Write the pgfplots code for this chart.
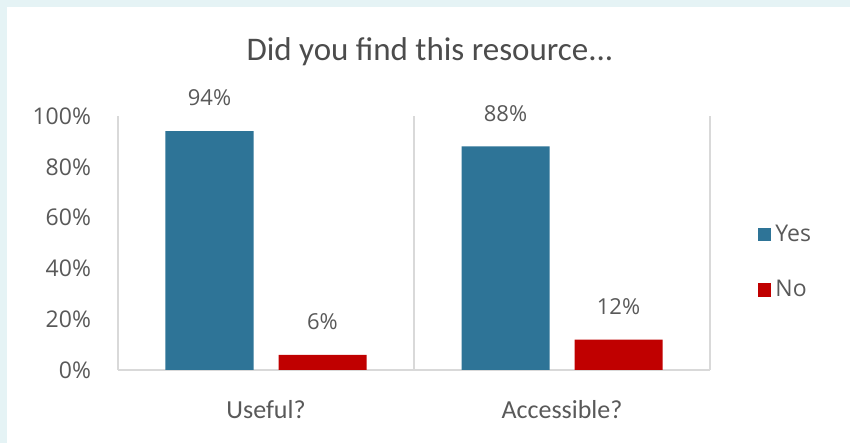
\documentclass[border=0pt]{standalone}
\usepackage{pgfplots}
\pgfplotsset{compat=1.18}
\usepackage{fontspec}
\setmainfont{Carlito}
\newfontfamily\numfont{Open Sans}
\definecolor{bgcyan}{HTML}{E5F3F5}
\definecolor{barblue}{HTML}{2E7497}
\definecolor{barred}{HTML}{C00000}
\definecolor{txtgray}{HTML}{595959}
\definecolor{linegray}{HTML}{D9D9D9}
\begin{document}
\begin{tikzpicture}
\useasboundingbox (0,0) rectangle (425pt,221.5pt);
\fill[bgcyan] (0,0) rectangle (425pt,221.5pt);
\fill[white] (3.5pt,0) rectangle (425pt,218pt);
\begin{axis}[
  at={(59pt,36.5pt)}, anchor=south west,
  scale only axis, width=296pt, height=127pt,
  xmin=-0.5, xmax=1.5, ymin=0, ymax=100,
  ybar,
  /pgf/number format/assume math mode=true,
  axis x line*=bottom, axis y line*=left,
  x axis line style={draw=linegray, line width=0.6pt, -},
  y axis line style={draw=none},
  xtick={0,1}, xticklabels={Useful?,Accessible?},
  minor xtick={-0.5,0.5,1.5}, xminorgrids=true,
  minor grid style={draw=linegray, line width=0.6pt},
  minor tick length=0pt, major tick length=0pt,
  ytick={0,20,40,60,80,100},
  yticklabels={0\%,20\%,40\%,60\%,80\%,100\%},
  tick style={draw=none},
  yticklabel style={font=\numfont\fontsize{11.5}{13}\selectfont, text=txtgray, xshift=-10pt},
  xticklabel style={font=\fontsize{13}{15}\selectfont, text=txtgray, yshift=-11.5pt},
  bar width=44pt,
  nodes near coords={\pgfmathprintnumber{\pgfplotspointmeta}\%},
  every node near coord/.append style={font=\numfont\fontsize{11}{13}\selectfont, text=txtgray, yshift=9pt},
  title={Did you find this resource...},
  title style={at={(0.527,1.205)}, anchor=center, font=\fontsize{16.5}{19}\selectfont, text=txtgray!85!black},
  legend style={draw=none, fill=none, at={(1.07,0.425)}, anchor=west,
    font=\numfont\fontsize{11.5}{13}\selectfont, text=txtgray, row sep=14pt,
    /tikz/every even column/.append style={column sep=2pt}},
  legend cell align=left,
  clip=false,
]
\addplot[fill=barblue, draw=none, bar shift=-28.25pt,
  legend image code/.code={\fill[barblue] (0pt,-3.4pt) rectangle (6.8pt,3.4pt);}]
  coordinates {(0,94) (1,88)};
\addlegendentry{Yes}
\addplot[fill=barred, draw=none, bar shift=28.25pt,
  legend image code/.code={\fill[barred] (0pt,-3.4pt) rectangle (6.8pt,3.4pt);}]
  coordinates {(0,6) (1,12)};
\addlegendentry{No}
\end{axis}
\end{tikzpicture}
\end{document}
